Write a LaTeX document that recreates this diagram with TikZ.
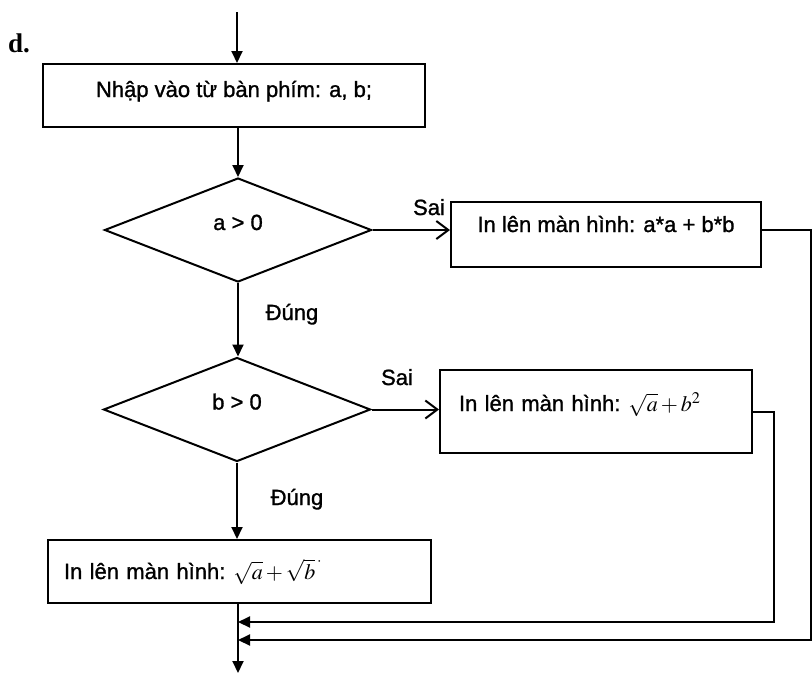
\documentclass[tikz,border=0pt]{standalone}
\usepackage{mathptmx}
\usepackage[no-math]{fontspec}
\setmainfont[FakeBold=1.2]{Liberation Sans}
\newfontfamily\serifbold{Liberation Serif}
\usetikzlibrary{shapes.geometric,arrows.meta,calc}
\begin{document}
\begin{tikzpicture}[x=1pt,y=-1pt,
  every node/.style={font=\fontsize{22pt}{26pt}\selectfont},
  box/.style={draw, line width=2pt, inner sep=0pt, anchor=north west},
  decision/.style={diamond, draw, line width=2pt, inner sep=0pt,
    text height=10pt, text depth=10pt, minimum width=267pt, minimum height=104pt},
  line/.style={line width=2pt},
  farrow/.style={line, -{Triangle[length=12pt,width=11pt]}},
  oarrow/.style={line, -{Straight Barb[length=12pt,width=18pt,line width=2pt]}},
  lbl/.style={anchor=base, inner sep=0pt}]
\useasboundingbox (0,0) rectangle (812,675);
\fill[white] (0,0) rectangle (812,675);

\node[anchor=base west, inner sep=0pt, font=\serifbold\bfseries\fontsize{27pt}{30pt}\selectfont] (dlabel) at (8,52) {d.};

\node[box, minimum width=382pt, text height=33pt, text depth=30pt] (b1) at (42,63)
  {Nhập vào từ bàn phím: a, b;};
\node[decision] (d1) at (238,230) {a > 0};
\node[box, minimum width=310pt, text height=30pt, text depth=35pt] (b2) at (450,201)
  {In lên màn hình: a*a + b*b};
\node[decision] (d2) at (237,409.5) {b > 0};
\node[box, inner xsep=19pt, text width=274pt, align=left, text height=41pt, text depth=42pt] (b3) at (439,369)
  {In lên màn hình:\hspace{8pt}$\sqrt{a}+b^{2}$};
\node[box, inner xsep=16pt, text width=351pt, align=left, text height=39pt, text depth=24pt] (b4) at (47,539)
  {In lên màn hình:\hspace{8pt}$\sqrt{a}+\sqrt{b}^{\,\cdot}$};

\node[lbl] (sai1) at (429,215) {Sai};
\node[lbl] (sai2) at (397,385) {Sai};
\node[lbl] (dung1) at (292,320) {Đúng};
\node[lbl] (dung2) at (297,505) {Đúng};

\coordinate (top) at (237,12);
\coordinate (end) at (238,673);
\coordinate (r2) at (811,640);
\coordinate (r3) at (774,622);

\draw[farrow] (top) -- (top |- b1.north);
\draw[farrow] (d1.north |- b1.south) -- (d1.north);
\draw[oarrow] (d1.east) -- (d1.east -| b2.west);
\draw[farrow] (d1.south) -- (d1.south |- d2.north);
\draw[oarrow] (d2.east) -- (d2.east -| b3.west);
\draw[farrow] (d2.south) -- (d2.south |- b4.north);
\draw[farrow] (b4.south -| end) -- (end);
\draw[farrow] (d1.east -| b2.east) -| (r2) -- (r2 -| end);
\draw[farrow] (b3.east) -| (r3) -- (r3 -| end);
\end{tikzpicture}
\end{document}
